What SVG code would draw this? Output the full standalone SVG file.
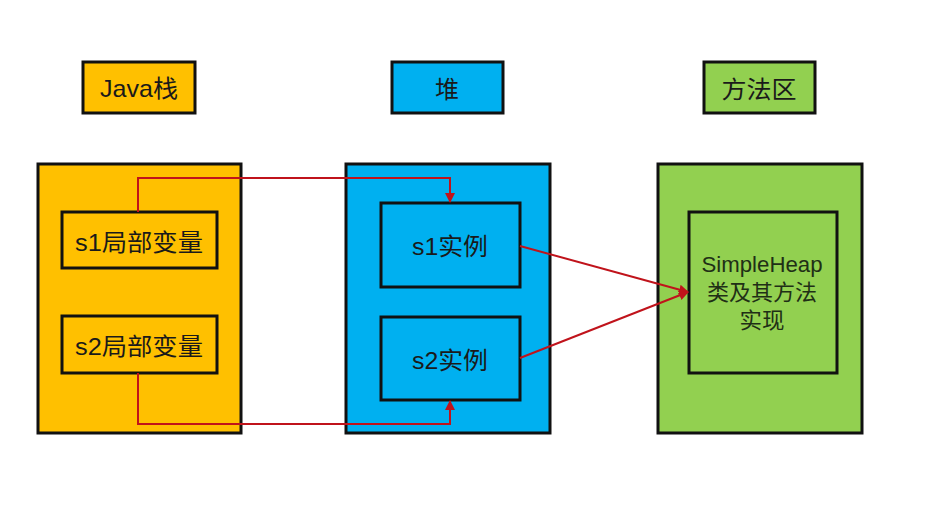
<svg xmlns="http://www.w3.org/2000/svg" width="933" height="511" viewBox="0 0 933 511">
<style>
.box{stroke:#111;stroke-width:3}
.y{fill:#FFC000}
.b{fill:#00B0F0}
.g{fill:#92D050}
text{font-family:"Liberation Sans","Noto Sans CJK SC",sans-serif;fill:#1a1a1a;text-anchor:middle}
.t{font-size:24px}
.m{font-size:22px;fill:#1f2f16}
.c{fill:none;stroke:#C0131B;stroke-width:2}
</style>
<defs>
<marker id="ah" viewBox="0 0 10 10" refX="9" refY="5" markerWidth="5" markerHeight="5" orient="auto" markerUnits="strokeWidth">
<path d="M0,0 L10,5 L0,10 z" fill="#C0131B"/>
</marker>
</defs>
<rect width="933" height="511" fill="#ffffff"/>
<g id="label-java">
<rect class="box y" x="83" y="62" width="112" height="51"/>
<text class="t" x="139" y="97" textLength="78" lengthAdjust="spacingAndGlyphs">Java栈</text>
</g>
<g id="label-heap">
<rect class="box b" x="392" y="62" width="111" height="51"/>
<text class="t" x="447" y="98">堆</text>
</g>
<g id="label-method">
<rect class="box g" x="704" y="62" width="111" height="51"/>
<text class="t" x="759" y="98" textLength="75" lengthAdjust="spacingAndGlyphs">方法区</text>
</g>
<g id="java-stack">
<rect class="box y" x="38" y="164" width="203" height="269"/>
</g>
<g id="heap">
<rect class="box b" x="346" y="164" width="204" height="269"/>
</g>
<g id="method-area">
<rect class="box g" x="658" y="164" width="204" height="269"/>
</g>
<g id="s1-var">
<rect class="box y" x="62" y="212" width="155" height="56"/>
<text class="t" x="139" y="251" textLength="128" lengthAdjust="spacingAndGlyphs">s1局部变量</text>
</g>
<g id="s2-var">
<rect class="box y" x="62" y="316" width="155" height="57"/>
<text class="t" x="139" y="355" textLength="128" lengthAdjust="spacingAndGlyphs">s2局部变量</text>
</g>
<g id="s1-inst">
<rect class="box b" x="381" y="203" width="139" height="84"/>
<text class="t" x="450" y="255" textLength="76" lengthAdjust="spacingAndGlyphs">s1实例</text>
</g>
<g id="s2-inst">
<rect class="box b" x="381" y="317" width="139" height="83"/>
<text class="t" x="450" y="369" textLength="76" lengthAdjust="spacingAndGlyphs">s2实例</text>
</g>
<g id="simpleheap-class">
<rect class="box g" x="689" y="212" width="148" height="161"/>
<text class="m" x="762" y="272" textLength="121" lengthAdjust="spacingAndGlyphs">SimpleHeap</text>
<text class="m" x="762" y="300" textLength="110" lengthAdjust="spacingAndGlyphs">类及其方法</text>
<text class="m" x="762" y="328" textLength="45" lengthAdjust="spacingAndGlyphs">实现</text>
</g>
<g id="connectors">
<path class="c" d="M138,212 V178 H450 V202" marker-end="url(#ah)"/>
<path class="c" d="M138,373 V424 H450 V401" marker-end="url(#ah)"/>
<path class="c" d="M520,246 L688,292" marker-end="url(#ah)"/>
<path class="c" d="M520,358 L688,292" marker-end="url(#ah)"/>
</g>
</svg>
